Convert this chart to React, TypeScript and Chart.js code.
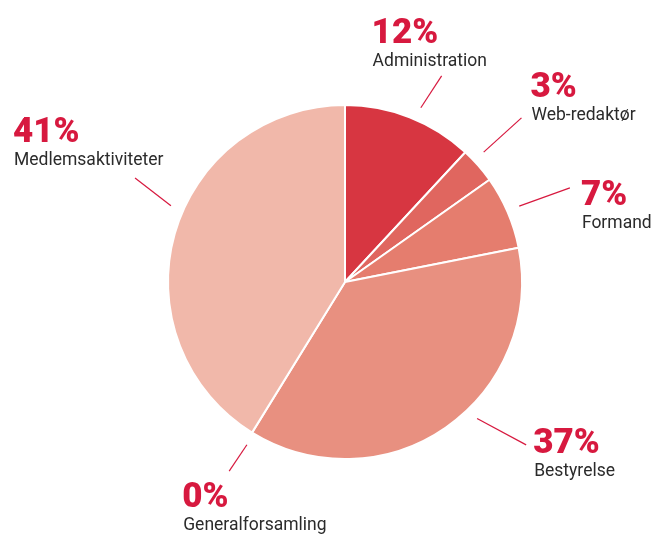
import React, { useEffect, useRef } from "react";
import { Chart, registerables } from "chart.js";

Chart.register(...registerables);

const categories = ["Administration", "Web-redaktør", "Formand", "Bestyrelse", "Generalforsamling", "Medlemsaktiviteter"];
const shares = [11.9, 3.3, 6.7, 36.9, 0, 41.2];
const percentLabels = ["12%", "3%", "7%", "37%", "0%", "41%"];
const sliceColors = ["#d73641", "#e0665f", "#e57d6e", "#e89080", "#e89080", "#f1b8aa"];

// label layout: leader angle offsets (deg) at inner/outer end, outer length beyond pie, text offset from leader end
const leaderInnerAngle = [2.1, -1.9, -0.3, -9.3, -0.6, 7.8];
const leaderOuterAngle = [3.7, -1.7, 0.5, -13.3, -0.2, 10.5];
const leaderOuter = [50.6, 64, 66.8, 66.6, 44.8, 57.3];
const textDx = [-69, 10, 12, 8, -46, -121];
const textDy = [-33, -21, 17, 8, 36, -36];

const labelPlugin = {
  id: "pieLabels",
  afterDraw(chart: any) {
    const ctx = chart.ctx;
    const meta = chart.getDatasetMeta(0);
    meta.data.forEach((arc: any, i: number) => {
      const { x, y, startAngle, endAngle, outerRadius } = arc.getProps(
        ["x", "y", "startAngle", "endAngle", "outerRadius"],
        true
      );
      const mid = (startAngle + endAngle) / 2;
      const a1 = mid + (leaderInnerAngle[i] * Math.PI) / 180;
      const a2 = mid + (leaderOuterAngle[i] * Math.PI) / 180;
      const r1 = 177 + 13;
      const r2 = 177 + leaderOuter[i];
      const x1 = x + Math.cos(a1) * r1;
      const y1 = y + Math.sin(a1) * r1;
      const x2 = x + Math.cos(a2) * r2;
      const y2 = y + Math.sin(a2) * r2;
      ctx.save();
      ctx.strokeStyle = "#d7193f";
      ctx.lineWidth = 1.2;
      ctx.beginPath();
      ctx.moveTo(x1, y1);
      ctx.lineTo(x2, y2);
      ctx.stroke();
      const tx = x2 + textDx[i];
      const ty = y2 + textDy[i];
      ctx.textAlign = "left";
      ctx.textBaseline = "alphabetic";
      ctx.fillStyle = "#d7193f";
      ctx.font = "900 35px Roboto";
      ctx.fillText(percentLabels[i], tx - 1, ty);
      ctx.fillStyle = "#2b2b2b";
      ctx.font = "17.5px Roboto";
      ctx.fillText(categories[i], tx, ty + 23);
      ctx.restore();
    });
  },
};

export default function App() {
  const ref = useRef<HTMLCanvasElement>(null);
  useEffect(() => {
    if (!ref.current) return;
    const chart = new Chart(ref.current, {
      type: "pie",
      data: {
        labels: categories,
        datasets: [
          {
            data: shares,
            backgroundColor: sliceColors,
            borderColor: "#ffffff",
            borderWidth: 2,
          },
        ],
      },
      options: {
        responsive: false,
        animation: false,
        devicePixelRatio: 1,
        layout: { padding: { left: 167, right: 141, top: 104, bottom: 74 } },
        plugins: { legend: { display: false }, tooltip: { enabled: false } },
      },
      plugins: [labelPlugin],
    });
    return () => chart.destroy();
  }, []);
  return (
    <div style={{ position: "absolute", left: 0, top: 0, width: 664, height: 534, background: "#fff" }}>
      <canvas ref={ref} width={664} height={534} />
    </div>
  );
}
